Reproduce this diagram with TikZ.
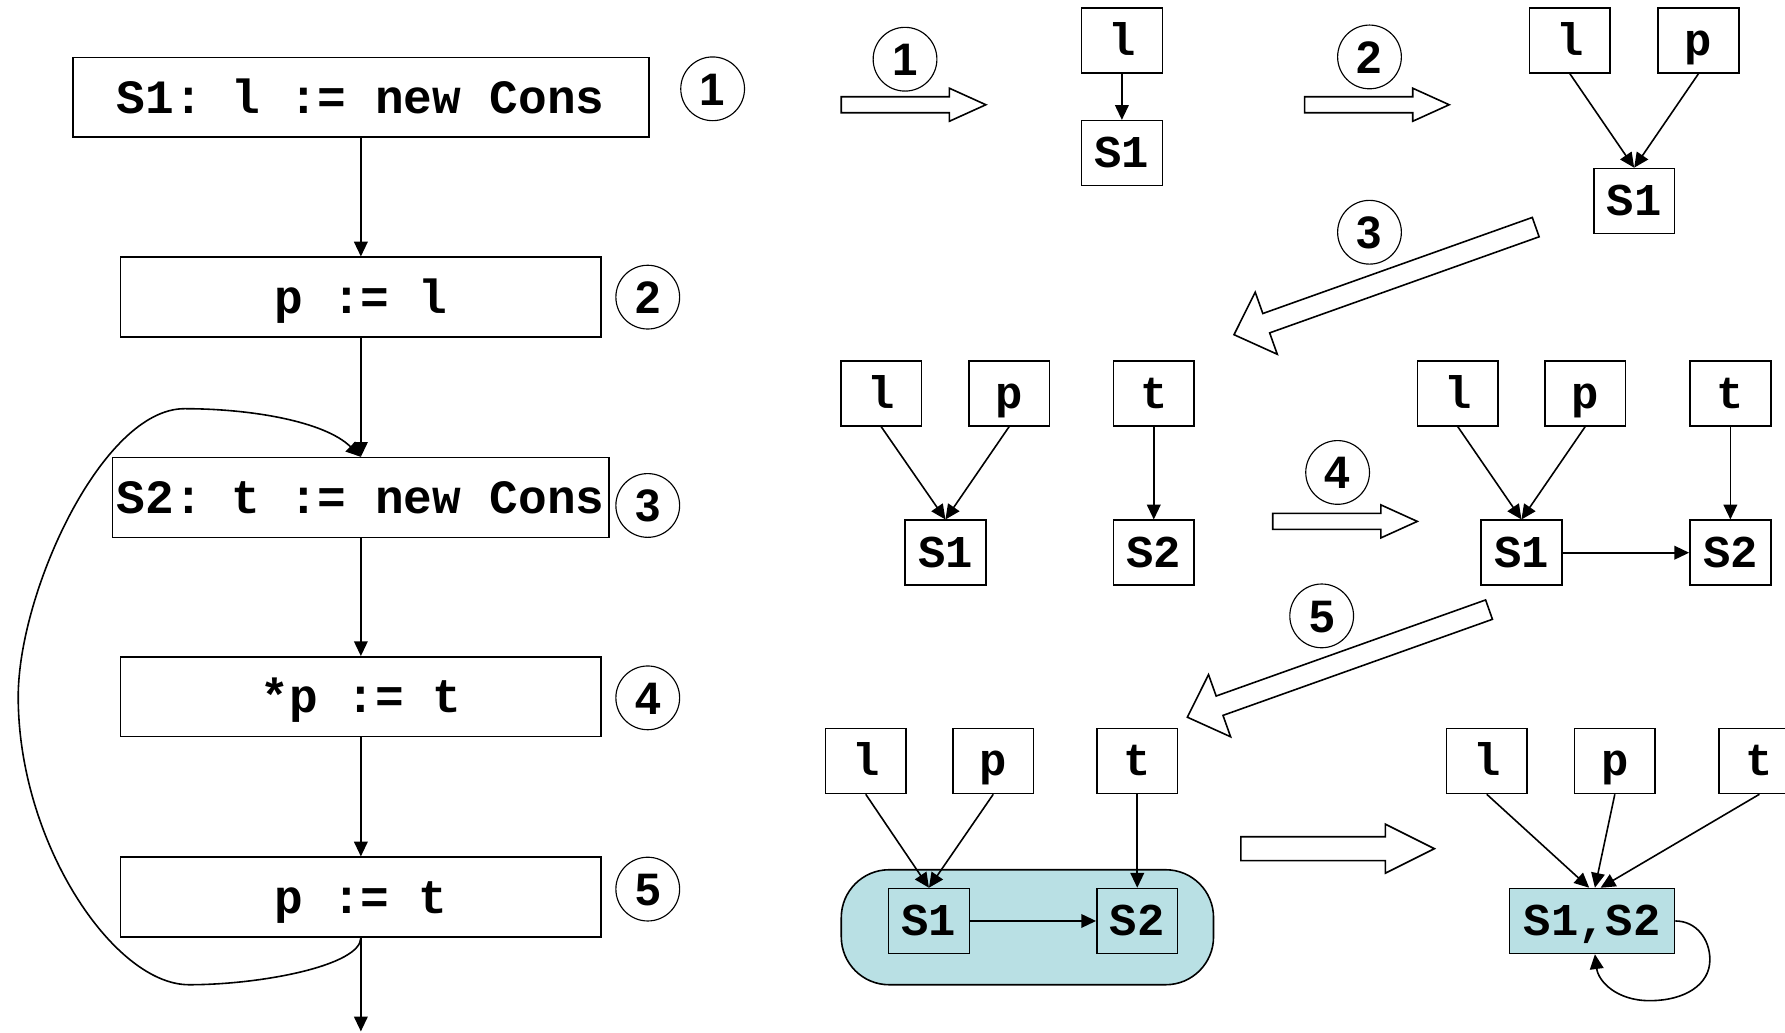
\documentclass[tikz,border=0pt]{standalone}
\usepackage{fontspec}
\setmainfont{Liberation Sans}
\setsansfont{Liberation Sans}
\setmonofont{Liberation Mono}
\usetikzlibrary{arrows.meta}
\definecolor{blobfill}{RGB}{185,224,228}
\tikzset{
  code/.style={draw, line width=0.7pt, inner sep=0pt, minimum height=35pt,
    font=\ttfamily\bfseries\fontsize{21}{25}\selectfont, text height=14pt, text depth=0pt},
  var/.style={draw, line width=0.7pt, inner sep=0pt, minimum width=35.5pt, minimum height=28.5pt,
    font=\ttfamily\bfseries\fontsize{20}{24}\selectfont, text height=13.5pt, text depth=0.5pt},
  num/.style={draw, circle, line width=0.5pt, minimum size=28pt, inner sep=0pt,
    font=\sffamily\bfseries\fontsize{20}{24}\selectfont, text height=14.3pt, text depth=0pt},
  edge/.style={line width=0.7pt, -{Triangle[length=6.5pt,width=6pt]}},
  fat/.style={draw, line width=0.7pt, fill=white, line join=miter},
  hl/.style={fill=blobfill},
}
\begin{document}
\begin{tikzpicture}[x=0.5pt,y=-0.5pt]
\useasboundingbox (0,0) rectangle (1568,907);

% ---------- left program ----------
\node[code, minimum width=253pt] (b1) at (317,85.5) {S1: l := new Cons};
\node[code, minimum width=211pt] (b2) at (317,261) {p := l};
\node[code, minimum width=218pt] (b3) at (317,437) {S2: t := new Cons};
\node[code, minimum width=211pt] (b4) at (317,612) {*p := t};
\node[code, minimum width=211pt] (b5) at (317,788) {p := t};
\coordinate (bend) at (317,906);

\node[num] (n1) at (626,78) {1};
\node[num] (n2) at (569,261) {2};
\node[num] (n3) at (569,444) {3};
\node[num] (n4) at (569,613) {4};
\node[num] (n5) at (569,781) {5};

\draw[edge] (b1) -- (b2);
\draw[edge] (b2) -- (b3);
\draw[edge] (b3) -- (b4);
\draw[edge] (b4) -- (b5);
\draw[edge] (b5) -- (bend);
\draw[edge] (b5.south) .. controls (317,848) and (230,865) .. (166,865)
  .. controls (100,865) and (16,740) .. (16,612)
  .. controls (16,520) and (90,359) .. (162,359)
  .. controls (220,359) and (285,370) .. (b3.north);

% ---------- fat arrows ----------
\draw[fat, shift={(739,92)}] (0,-7) -- (95,-7) -- (95,-14.5) -- (127,0) -- (95,14.5) -- (95,7) -- (0,7) -- cycle;
\draw[fat, shift={(1146,92)}] (0,-7) -- (95,-7) -- (95,-14.5) -- (127,0) -- (95,14.5) -- (95,7) -- (0,7) -- cycle;
\draw[fat, shift={(1118,458)}] (0,-7) -- (95,-7) -- (95,-14.5) -- (127,0) -- (95,14.5) -- (95,7) -- (0,7) -- cycle;
\draw[fat, shift={(1090,745.5)}] (0,-10.5) -- (127,-10.5) -- (127,-21.5) -- (170,0) -- (127,21.5) -- (127,10.5) -- (0,10.5) -- cycle;
\draw[fat] (1346,191) -- (1109.3,275.4) -- (1102.6,256.6) -- (1084,294) -- (1122,311.2) -- (1115.3,292.4) -- (1352,208) -- cycle;
\draw[fat, shift={(-41,336)}] (1346,191) -- (1109.3,275.4) -- (1102.6,256.6) -- (1084,294) -- (1122,311.2) -- (1115.3,292.4) -- (1352,208) -- cycle;

\node[num] (a1) at (795,52) {1};
\node[num] (a2) at (1203,50) {2};
\node[num] (a3) at (1203,204) {3};
\node[num] (a4) at (1175,415) {4};
\node[num] (a5) at (1161,541) {5};

% ---------- graph 1 ----------
\node[var] (g1l) at (985.5,35.5) {l};
\node[var] (g1s1) at (985.5,134.5) {S1};
\draw[edge] (g1l) -- (g1s1);

% ---------- graph 2 ----------
\node[var] (g2l) at (1379,35.5) {l};
\node[var] (g2p) at (1492,35.5) {p};
\node[var] (g2s1) at (1435.5,176.5) {S1};
\draw[edge] (g2l.south) -- (g2s1.north);
\draw[edge] (g2p.south) -- (g2s1.north);

% ---------- graph 3 ----------
\node[var] (g3l) at (774,345.5) {l};
\node[var] (g3p) at (886.5,345.5) {p};
\node[var] (g3t) at (1013.5,345.5) {t};
\node[var] (g3s1) at (830.5,485.5) {S1};
\node[var] (g3s2) at (1013.5,485.5) {S2};
\draw[edge] (g3l.south) -- (g3s1.north);
\draw[edge] (g3p.south) -- (g3s1.north);
\draw[edge] (g3t) -- (g3s2);

% ---------- graph 4 ----------
\node[var] (g4l) at (1280.5,345.5) {l};
\node[var] (g4p) at (1392.5,345.5) {p};
\node[var] (g4t) at (1520,345.5) {t};
\node[var] (g4s1) at (1336.5,485.5) {S1};
\node[var] (g4s2) at (1520,485.5) {S2};
\draw[edge] (g4l.south) -- (g4s1.north);
\draw[edge] (g4p.south) -- (g4s1.north);
\draw[edge] (g4t) -- (g4s2);
\draw[edge] (g4s1) -- (g4s2);

% ---------- graph 5 ----------
\node[draw, hl, line width=0.7pt, rounded corners=21pt, minimum width=163.5pt, minimum height=50.5pt, inner sep=0pt] (blob) at (902.5,814.5) {};
\node[var] (g5l) at (760.5,668.5) {l};
\node[var] (g5p) at (872.5,668.5) {p};
\node[var] (g5t) at (999,668.5) {t};
\node[var, hl] (g5s1) at (816,809) {S1};
\node[var, hl] (g5s2) at (999,809) {S2};
\draw[edge] (g5l.south) -- (g5s1.north);
\draw[edge] (g5p.south) -- (g5s1.north);
\draw[edge] (g5t) -- (g5s2);
\draw[edge] (g5s1) -- (g5s2);

% ---------- graph 6 ----------
\node[var] (g6l) at (1306,668.5) {l};
\node[var] (g6p) at (1418.5,668.5) {p};
\node[var] (g6t) at (1545.5,668.5) {t};
\node[var, hl, minimum width=72.5pt] (g6s) at (1398.5,809) {S1,S2};
\draw[edge] (g6l.south) -- ([xshift=-1.25pt]g6s.north);
\draw[edge] (g6p.south) -- ([xshift=1.25pt]g6s.north);
\draw[edge] (g6t.south) -- ([xshift=3.75pt]g6s.north);
\draw[edge] (g6s.east) .. controls (1490,809) and (1502,825) .. (1502,843)
  .. controls (1502,865) and (1480,879) .. (1449,879)
  .. controls (1420,879) and (1404,862) .. ([xshift=1.25pt]g6s.south);
\end{tikzpicture}
\end{document}
